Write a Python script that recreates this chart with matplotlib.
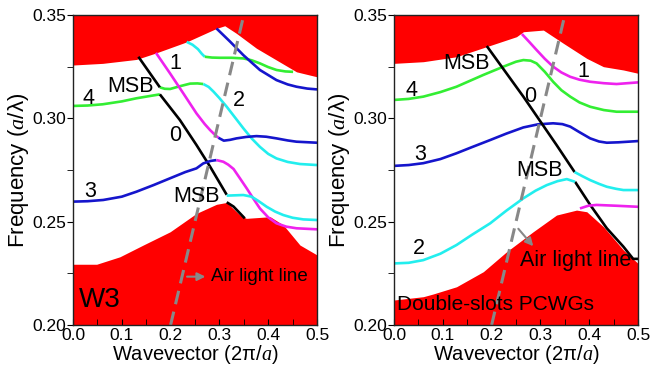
import matplotlib
matplotlib.use("Agg")
import matplotlib.pyplot as plt
from matplotlib.ticker import MultipleLocator

plt.rcParams['font.family'] = ['Liberation Sans', 'DejaVu Sans']
plt.rcParams['mathtext.fontset'] = 'custom'
plt.rcParams['mathtext.rm'] = 'Liberation Sans'
plt.rcParams['mathtext.it'] = 'Liberation Serif:italic'

RED = '#ff0000'
GREEN = '#33ee33'
CYAN = '#22eeee'
BLUE = '#1515cc'
MAGENTA = '#ee22ee'

# ---- W3 panel data ----
w3_top_x = [0, 0.061, 0.13, 0.171, 0.233, 0.294, 0.311, 0.335, 0.376, 0.417, 0.458, 0.5]
w3_top_f = [0.3258, 0.3266, 0.3285, 0.3317, 0.3370, 0.3435, 0.3448, 0.3411, 0.3339, 0.3282, 0.3225, 0.3201]
w3_bot_x = [0, 0.0485, 0.096, 0.144, 0.199, 0.253, 0.294, 0.315, 0.342, 0.355, 0.404, 0.431, 0.465, 0.5]
w3_bot_f = [0.2294, 0.2294, 0.2330, 0.2387, 0.2451, 0.2540, 0.2584, 0.2593, 0.2532, 0.2516, 0.2524, 0.2484, 0.2387, 0.2339]

w3_bands = [
    # (x, f, colour)
    ([0, 0.03, 0.061, 0.1, 0.13, 0.155, 0.178], [0.3060, 0.3062, 0.3068, 0.3082, 0.3097, 0.3107, 0.3116], GREEN),
    ([0.178, 0.188, 0.199, 0.22, 0.24, 0.255, 0.267], [0.3150, 0.3143, 0.3142, 0.3156, 0.3168, 0.3169, 0.3166], GREEN),
    ([0.267, 0.278, 0.288, 0.300, 0.315, 0.332, 0.349, 0.366, 0.383, 0.400, 0.417, 0.440, 0.465, 0.5],
     [0.3166, 0.3152, 0.3129, 0.3098, 0.3056, 0.3004, 0.2952, 0.2903, 0.2862, 0.2828, 0.2806, 0.2789, 0.2779, 0.2774], CYAN),
    ([0.233, 0.245, 0.256, 0.264, 0.270], [0.3370, 0.3356, 0.3335, 0.3312, 0.3298], CYAN),
    ([0.270, 0.285, 0.301, 0.325, 0.349, 0.366, 0.383, 0.400, 0.417, 0.435, 0.451],
     [0.3298, 0.3294, 0.3293, 0.3293, 0.3290, 0.3281, 0.3266, 0.3248, 0.3234, 0.3227, 0.3225], GREEN),
    ([0.294, 0.322, 0.349, 0.383, 0.417, 0.440, 0.458, 0.480, 0.5],
     [0.3435, 0.3371, 0.3306, 0.3234, 0.3185, 0.3164, 0.3153, 0.3144, 0.3140], BLUE),
    ([0.170, 0.199, 0.226, 0.253, 0.270, 0.281, 0.291, 0.298], [0.3317, 0.3217, 0.3121, 0.3024, 0.2972, 0.2943, 0.2920, 0.2906], MAGENTA),
    ([0.298, 0.309, 0.322, 0.335, 0.355, 0.376, 0.396, 0.417, 0.440, 0.458, 0.5],
     [0.2906, 0.2892, 0.2896, 0.2903, 0.2910, 0.2914, 0.2911, 0.2903, 0.2893, 0.2887, 0.2882], BLUE),
    ([0.134, 0.178], [0.3298, 0.3150], 'black'),
    ([0.178, 0.219, 0.253, 0.281, 0.315], [0.3116, 0.2992, 0.2871, 0.2766, 0.2630], 'black'),
    ([0.315, 0.329, 0.352], [0.2594, 0.2573, 0.2516], 'black'),
    ([0, 0.03, 0.062, 0.1, 0.130, 0.165, 0.199, 0.23, 0.253, 0.267, 0.282, 0.294],
     [0.2597, 0.2599, 0.2605, 0.2621, 0.2645, 0.2677, 0.2710, 0.2740, 0.2758, 0.2782, 0.2794, 0.2798], BLUE),
    ([0.294, 0.308, 0.318, 0.329, 0.342, 0.356, 0.370, 0.383, 0.400, 0.417, 0.437, 0.458, 0.5],
     [0.2798, 0.2790, 0.2776, 0.2755, 0.2710, 0.2661, 0.2610, 0.2564, 0.2521, 0.2492, 0.2476, 0.2468, 0.2463], MAGENTA),
    ([0.315, 0.349, 0.366, 0.380, 0.397, 0.414, 0.431, 0.450, 0.472, 0.5],
     [0.2626, 0.2629, 0.2621, 0.2600, 0.2572, 0.2549, 0.2532, 0.2519, 0.2511, 0.2508], CYAN),
]
w3_labels = [
    ('1', 0.209, 0.3266), ('MSB', 0.117, 0.3153), ('4', 0.031, 0.3097), ('2', 0.339, 0.3088),
    ('0', 0.209, 0.2919), ('3', 0.035, 0.2645), ('MSB', 0.253, 0.2621),
]

# ---- Double-slots panel data ----
ds_top_x = [0, 0.06, 0.128, 0.19, 0.251, 0.265, 0.306, 0.347, 0.395, 0.429, 0.47, 0.5]
ds_top_f = [0.3266, 0.3274, 0.3298, 0.3347, 0.3395, 0.3419, 0.3427, 0.3363, 0.3290, 0.3250, 0.3234, 0.3218]
ds_bot_x = [0, 0.06, 0.08, 0.128, 0.183, 0.231, 0.285, 0.333, 0.374, 0.395, 0.429, 0.47, 0.5]
ds_bot_f = [0.2121, 0.2137, 0.2150, 0.2185, 0.2258, 0.2355, 0.2451, 0.2532, 0.2556, 0.2548, 0.2476, 0.2363, 0.2298]

ds_bands = [
    ([0.262, 0.277, 0.292, 0.309, 0.326, 0.343, 0.361, 0.380, 0.402, 0.430, 0.456, 0.5],
     [0.3408, 0.3370, 0.3331, 0.3288, 0.3250, 0.3222, 0.3201, 0.3187, 0.3177, 0.3170, 0.3166, 0.3174], MAGENTA),
    ([0, 0.03, 0.06, 0.095, 0.128, 0.155, 0.183, 0.224, 0.250, 0.265, 0.280, 0.292, 0.309, 0.326, 0.343, 0.361, 0.380, 0.402, 0.430, 0.456, 0.5],
     [0.3089, 0.3094, 0.3105, 0.3127, 0.3153, 0.3181, 0.3210, 0.3250, 0.3274, 0.3282, 0.3279, 0.3266, 0.3225, 0.3177, 0.3136, 0.3105, 0.3077, 0.3056, 0.3040, 0.3032, 0.3032], GREEN),
    ([0, 0.03, 0.06, 0.095, 0.128, 0.160, 0.197, 0.230, 0.265, 0.295, 0.326, 0.345, 0.361, 0.380, 0.402, 0.420, 0.436, 0.46, 0.5],
     [0.2770, 0.2774, 0.2783, 0.2803, 0.2831, 0.2861, 0.2895, 0.2926, 0.2956, 0.2971, 0.2976, 0.2972, 0.2960, 0.2933, 0.2903, 0.2888, 0.2882, 0.2884, 0.2890], BLUE),
    ([0.19, 0.265, 0.333, 0.370], [0.3350, 0.3105, 0.2871, 0.2740], 'black'),
    ([0.371, 0.402, 0.436, 0.47, 0.49, 0.5], [0.2693, 0.2581, 0.2468, 0.2379, 0.2320, 0.2320], 'black'),
    ([0.370, 0.386, 0.402, 0.420, 0.436, 0.455, 0.47, 0.5], [0.2740, 0.2720, 0.2701, 0.2683, 0.2669, 0.2659, 0.2653, 0.2653], CYAN),
    ([0, 0.03, 0.06, 0.095, 0.128, 0.160, 0.197, 0.230, 0.265, 0.290, 0.313, 0.335, 0.354, 0.371],
     [0.2298, 0.2301, 0.2314, 0.2345, 0.2387, 0.2437, 0.2492, 0.2553, 0.2613, 0.2650, 0.2677, 0.2696, 0.2706, 0.2693], CYAN),
    ([0.381, 0.398, 0.415, 0.456, 0.5], [0.2564, 0.2577, 0.2581, 0.2577, 0.2572], MAGENTA),
]
ds_labels = [
    ('MSB', 0.149, 0.3266), ('1', 0.388, 0.3225), ('4', 0.036, 0.3137), ('0', 0.279, 0.3105),
    ('3', 0.053, 0.2823), ('MSB', 0.299, 0.2750), ('2', 0.050, 0.2371),
]

light_x = [0.20, 0.36]


def draw_panel(ax, top_x, top_f, bot_x, bot_f, bands, labels):
    ax.fill_between(top_x, top_f, 0.36, color=RED, lw=0)
    ax.fill_between(bot_x, 0.19, bot_f, color=RED, lw=0)
    for x, f, c in bands:
        ax.plot(x, f, color=c, lw=1.9, solid_capstyle='butt', solid_joinstyle='round')
    ax.plot(light_x, light_x, color='#888888', lw=2.2, ls=(0, (4.5, 2.5)))
    for t, x, f in labels:
        ax.text(x, f, t, fontsize=15.5, ha='center', va='center')
    ax.set_xlim(0, 0.5)
    ax.set_ylim(0.20, 0.35)
    ax.xaxis.set_major_locator(MultipleLocator(0.1))
    ax.xaxis.set_minor_locator(MultipleLocator(0.05))
    ax.yaxis.set_major_locator(MultipleLocator(0.05))
    ax.yaxis.set_minor_locator(MultipleLocator(0.025))
    ax.xaxis.set_major_formatter(plt.FormatStrFormatter('%.1f'))
    ax.yaxis.set_major_formatter(plt.FormatStrFormatter('%.2f'))
    ax.tick_params(axis='x', which='both', direction='in', length=4, labelsize=12.5, pad=2)
    ax.tick_params(axis='y', which='both', direction='out', length=4, labelsize=12.5, pad=1)
    for s in ax.spines.values():
        s.set_linewidth(1.0)
        s.set_color('#222222')
    ax.set_xlabel('Wavevector (2π/$a$)', fontsize=14.5, labelpad=0)
    ax.set_ylabel('Frequency ($a$/λ)', fontsize=16, labelpad=1)


fig = plt.figure(figsize=(6.5, 3.75), dpi=100)
ax1 = fig.add_axes([0.1123, 0.1333, 0.3754, 0.8267])
ax2 = fig.add_axes([0.6062, 0.1333, 0.3754, 0.8267])

draw_panel(ax1, w3_top_x, w3_top_f, w3_bot_x, w3_bot_f, w3_bands, w3_labels)
draw_panel(ax2, ds_top_x, ds_top_f, ds_bot_x, ds_bot_f, ds_bands, ds_labels)

ax1.text(0.012, 0.212, 'W3', fontsize=20, ha='left', va='center')
ax1.annotate('', xy=(0.277, 0.2234), xytext=(0.228, 0.2234),
             arrowprops=dict(arrowstyle='-|>', color='#888888', lw=1.5, mutation_scale=12))
ax1.text(0.282, 0.2234, 'Air light line', fontsize=13.5, ha='left', va='center')

ax2.text(0.007, 0.2097, 'Double-slots PCWGs', fontsize=15, ha='left', va='center')
ax2.annotate('', xy=(0.289, 0.2371), xytext=(0.251, 0.2476),
             arrowprops=dict(arrowstyle='-|>', color='#888888', lw=1.5, mutation_scale=12))
ax2.text(0.258, 0.2314, 'Air light line', fontsize=15.5, ha='left', va='center')

fig.savefig('out.png', dpi=100)
